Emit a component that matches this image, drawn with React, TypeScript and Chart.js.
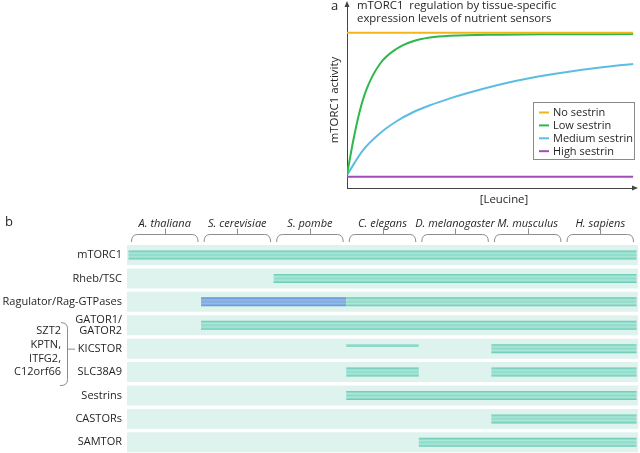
import React, { useEffect, useRef } from 'react';
import { Chart, registerables } from 'chart.js';
Chart.register(...registerables);

const FONT = '"Open Sans", "Liberation Sans", sans-serif';
const INK = '#231f20';

// ---------- Panel a data ----------
const panelATitle = ['mTORC1  regulation by tissue-specific', 'expression levels of nutrient sensors'];
const yAxisTitle = 'mTORC1 activity';
const xAxisTitle = '[Leucine]';
const seriesNames = ['No sestrin', 'Low sestrin', 'Medium sestrin', 'High sestrin'];
const seriesColors = ['#f5b31a', '#2db84b', '#5cbde2', '#a14db7'];
const leucineNo = [0, 99.7];
const activityNo = [0.849, 0.849];
const leucineLow = [0, 2.2, 4.5, 6.9, 11.5, 17.3, 23.0, 28.9, 35.9, 53.3, 70.7, 99.7];
const activityLow = [0.071, 0.261, 0.424, 0.543, 0.679, 0.761, 0.802, 0.822, 0.832, 0.838, 0.840, 0.841];
const leucineMed = [0, 5.6, 11.5, 17.4, 23.0, 28.9, 35.9, 41.8, 53.3, 64.8, 76.7, 88.2, 99.7];
const activityMed = [0.071, 0.207, 0.299, 0.366, 0.414, 0.452, 0.490, 0.518, 0.566, 0.604, 0.634, 0.658, 0.678];
const leucineHigh = [0, 99.7];
const activityHigh = [0.061, 0.061];

// ---------- Panel b data ----------
const species = ['A. thaliana', 'S. cerevisiae', 'S. pombe', 'C. elegans', 'D. melanogaster', 'M. musculus', 'H. sapiens'];
const components: (string | string[])[] = ['mTORC1', 'Rheb/TSC', 'Ragulator/Rag-GTPases', ['GATOR1/', 'GATOR2'], 'KICSTOR', 'SLC38A9', 'Sestrins', 'CASTORs', 'SAMTOR'];
// presence ranges, in species-column units [fromColumn, toColumn]
const conservedMain = [[0, 7], [2, 7], [3, 7], [1, 7], [5, 7], [5, 7], [3, 7], [5, 7], [4, 7]];
const conservedInvertebrate = [null, null, null, null, null, [3, 4], null, null, null];
const partialHomolog = [null, null, null, null, [3, 4], null, null, null, null];
const yeastRagOnly = [null, null, [1, 3], null, null, null, null, null, null];
const kicstorSubunits = ['SZT2', 'KPTN,', 'ITFG2,', 'C12orf66'];

const B_TOP = 205;

function stripe(stops: [number, string][]) {
  return (ctx: any) => {
    const chart = ctx.chart;
    const ys = chart.scales && chart.scales.y;
    if (!ys || ctx.type !== 'data') return stops[0][1];
    const yc = ys.getPixelForValue(ctx.dataIndex);
    if (!isFinite(yc)) return stops[0][1];
    const g = chart.ctx.createLinearGradient(0, yc - 4.5, 0, yc + 4.5);
    stops.forEach(([o, c]) => g.addColorStop(o, c));
    return g;
  };
}

const tealStops: [number, string][] = [[0, '#62c8b0'], [0.3, '#ade7da'], [0.5, '#8bdac8'], [0.7, '#ade7da'], [1, '#62c8b0']];
const blueStops: [number, string][] = [[0, '#5b8fd2'], [0.3, '#95bbe9'], [0.5, '#7ea9e1'], [0.7, '#95bbe9'], [1, '#5b8fd2']];
const thinStops: [number, string][] = [[0, '#8fd9c9'], [0.3, '#8fd9c9'], [0.3, 'rgba(255,255,255,0)'], [1, 'rgba(255,255,255,0)']];

const panelAPlugin = {
  id: 'panelADecor',
  afterDraw(chart: any) {
    const c = chart.ctx;
    const { left, top, right, bottom } = chart.chartArea;
    c.save();
    c.fillStyle = '#444';
    c.beginPath();
    c.moveTo(left, top - 4);
    c.lineTo(left - 2.5, top + 2);
    c.lineTo(left + 2.5, top + 2);
    c.closePath();
    c.fill();
    c.beginPath();
    c.moveTo(right + 4, bottom);
    c.lineTo(right - 2, bottom - 2.5);
    c.lineTo(right - 2, bottom + 2.5);
    c.closePath();
    c.fill();

    c.fillStyle = INK;
    c.textBaseline = 'middle';
    c.textAlign = 'left';
    c.font = `13px ${FONT}`;
    c.fillText('a', 31, 6);
    c.font = `11.4px ${FONT}`;
    c.fillText(panelATitle[0], 57, 6);
    c.fillText(panelATitle[1], 57, 18.5);
    c.textAlign = 'center';
    c.fillText(xAxisTitle, 204, 200);
    c.save();
    c.translate(35, 100);
    c.rotate(-Math.PI / 2);
    c.fillText(yAxisTitle, 0, 0);
    c.restore();

    // legend box
    c.fillStyle = '#fff';
    c.fillRect(233.5, 102.5, 101, 57);
    c.strokeStyle = '#8a8a8a';
    c.lineWidth = 1;
    c.strokeRect(233.5, 102.5, 101, 57);
    c.textAlign = 'left';
    c.font = `11px ${FONT}`;
    seriesNames.forEach((name, i) => {
      const y = 112.5 + i * 12.9;
      c.strokeStyle = seriesColors[i];
      c.lineWidth = 2;
      c.beginPath();
      c.moveTo(239, y);
      c.lineTo(249, y);
      c.stroke();
      c.fillStyle = INK;
      c.fillText(name, 253, y + 0.5);
    });
    c.restore();
  },
};

const panelBPlugin = {
  id: 'panelBDecor',
  afterDraw(chart: any) {
    const c = chart.ctx;
    const xs = chart.scales.x;
    const ys = chart.scales.y;
    c.save();
    // braces under species names
    c.strokeStyle = '#8c8c8c';
    c.lineWidth = 1;
    const yTop = 234.5 - B_TOP;
    const yEnd = 242 - B_TOP;
    for (let i = 0; i < species.length; i++) {
      const x0 = xs.getPixelForValue(i) + 3;
      const x1 = xs.getPixelForValue(i + 1) - 3;
      const xm = (x0 + x1) / 2;
      c.beginPath();
      c.moveTo(x0, yEnd);
      c.quadraticCurveTo(x0, yTop, x0 + 6, yTop);
      c.lineTo(x1 - 6, yTop);
      c.quadraticCurveTo(x1, yTop, x1, yEnd);
      c.moveTo(Math.round(xm) + 0.5, yTop);
      c.lineTo(Math.round(xm) + 0.5, yTop - 6);
      c.stroke();
    }
    // "b"
    c.fillStyle = INK;
    c.textBaseline = 'middle';
    c.textAlign = 'left';
    c.font = `13px ${FONT}`;
    c.fillText('b', 5, 222 - B_TOP);

    // KICSTOR subunit bracket
    const yk = ys.getPixelForValue(4);
    c.font = `11px ${FONT}`;
    c.textAlign = 'right';
    kicstorSubunits.forEach((t, i) => {
      c.fillText(t, 61, yk - 18 + i * 13.9);
    });
    c.strokeStyle = '#8c8c8c';
    c.beginPath();
    c.moveTo(61, yk - 26);
    c.quadraticCurveTo(67.5, yk - 26, 67.5, yk - 20);
    c.lineTo(67.5, yk + 31);
    c.quadraticCurveTo(67.5, yk + 37, 60, yk + 37);
    c.moveTo(67.5, yk + 0.5);
    c.lineTo(75, yk + 0.5);
    c.stroke();
    c.restore();
  },
};

function PanelA() {
  const ref = useRef<HTMLCanvasElement>(null);
  useEffect(() => {
    const xsArr = [leucineNo, leucineLow, leucineMed, leucineHigh];
    const ysArr = [activityNo, activityLow, activityMed, activityHigh];
    const chart = new Chart(ref.current as HTMLCanvasElement, {
      type: 'line',
      data: {
        datasets: seriesNames.map((name, i) => ({
          label: name,
          data: xsArr[i].map((x, j) => ({ x, y: ysArr[i][j] })),
          borderColor: seriesColors[i],
          backgroundColor: seriesColors[i],
          borderWidth: 2,
          pointRadius: 0,
          cubicInterpolationMode: 'monotone' as const,
          fill: false,
        })),
      },
      options: {
        responsive: false,
        animation: false,
        layout: { padding: { left: 47, top: 5, right: 6, bottom: 24 } },
        plugins: { legend: { display: false }, tooltip: { enabled: false }, title: { display: false } },
        scales: {
          x: {
            type: 'linear', min: 0, max: 100,
            ticks: { display: false },
            grid: { display: false, drawTicks: false },
            border: { display: true, color: '#444', width: 1 },
            afterFit: (s: any) => { s.height = 0; s.paddingLeft = 0; s.paddingRight = 0; },
          },
          y: {
            type: 'linear', min: 0, max: 1,
            ticks: { display: false },
            grid: { display: false, drawTicks: false },
            border: { display: true, color: '#444', width: 1 },
            afterFit: (s: any) => { s.width = 0; s.paddingTop = 0; s.paddingBottom = 0; },
          },
        },
      },
      plugins: [panelAPlugin],
    } as any);
    return () => chart.destroy();
  }, []);
  return <canvas ref={ref} width={340} height={212} style={{ position: 'absolute', left: 300, top: 0 }} />;
}

function PanelB() {
  const ref = useRef<HTMLCanvasElement>(null);
  useEffect(() => {
    const xMin = -0.02;
    const xMax = 7.02;
    const common = { grouped: false, borderWidth: 0, borderSkipped: false, inflateAmount: 0 };
    const chart = new Chart(ref.current as HTMLCanvasElement, {
      type: 'bar',
      data: {
        labels: components,
        datasets: [
          { ...common, label: 'background', data: components.map(() => [xMin, xMax]), backgroundColor: '#dff3ee', barThickness: 20, order: 10 },
          { ...common, label: 'conserved', data: conservedMain, backgroundColor: stripe(tealStops), barThickness: 9, order: 2 },
          { ...common, label: 'conserved (invertebrate)', data: conservedInvertebrate, backgroundColor: stripe(tealStops), barThickness: 9, order: 2 },
          { ...common, label: 'yeast Rag', data: yeastRagOnly, backgroundColor: stripe(blueStops), barThickness: 9, order: 2 },
          { ...common, label: 'partial', data: partialHomolog, backgroundColor: stripe(thinStops), barThickness: 9, order: 2 },
        ],
      },
      options: {
        indexAxis: 'y',
        responsive: false,
        animation: false,
        layout: { padding: { left: 0, top: 0, right: 2, bottom: 0 } },
        plugins: { legend: { display: false }, tooltip: { enabled: false }, title: { display: false } },
        scales: {
          x: {
            type: 'linear', position: 'top', min: xMin, max: xMax,
            grid: { display: false, drawTicks: false },
            border: { display: false },
            ticks: {
              autoSkip: false, maxRotation: 0, padding: 13, color: INK,
              font: { family: FONT, size: 11, style: 'italic' },
              callback: (_v: any, i: number) => species[i] ?? '',
            },
            afterBuildTicks: (s: any) => { s.ticks = species.map((_, i) => ({ value: i + 0.5 })); },
            afterFit: (s: any) => { s.height = 243.3 - B_TOP; s.paddingLeft = 0; s.paddingRight = 0; },
          },
          y: {
            type: 'category',
            grid: { display: false, drawTicks: false },
            border: { display: false },
            ticks: { autoSkip: false, padding: 5, color: INK, font: { family: FONT, size: 11, lineHeight: 1.05 } },
            afterFit: (s: any) => { s.width = 127; s.paddingTop = 0; s.paddingBottom = 0; },
          },
        },
      },
      plugins: [panelBPlugin],
    } as any);
    return () => chart.destroy();
  }, []);
  return <canvas ref={ref} width={640} height={454 - B_TOP} style={{ position: 'absolute', left: 0, top: B_TOP }} />;
}

export default function App() {
  return (
    <div style={{ position: 'fixed', left: 0, top: 0, width: 640, height: 453, background: '#fff', overflow: 'hidden' }}>
      <PanelA />
      <PanelB />
    </div>
  );
}
